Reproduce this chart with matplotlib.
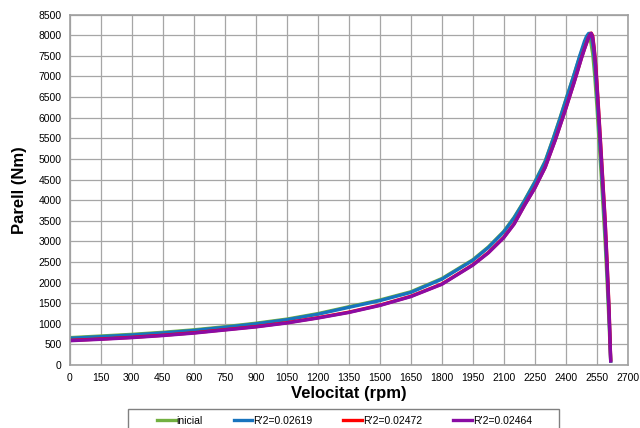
import numpy as np
import matplotlib
matplotlib.use("Agg")
import matplotlib.pyplot as plt
from matplotlib.patches import Rectangle

plt.rcParams['font.family'] = ['Liberation Sans', 'DejaVu Sans']

# speed points (rpm) and torque (Nm)
rpm_ini = [0, 150, 300, 450, 600, 750, 900, 1050, 1200, 1350, 1500, 1650, 1800, 1950,
           2025, 2100, 2150, 2200, 2250, 2300, 2340, 2370, 2405, 2437, 2466, 2490,
           2500, 2510, 2520, 2530, 2540, 2550, 2560, 2570, 2580, 2590, 2600, 2610,
           2617]
t_ini = [665, 705, 745, 795, 855, 930, 1015, 1115, 1248, 1415, 1578, 1778, 2098, 2555,
         2865, 3245, 3585, 3995, 4445, 4945, 5515, 5965, 6515, 7000, 7460, 7780,
         7870, 7900, 7850, 7550, 7000, 6300, 5500, 4700, 3850, 3000, 2000, 900,
         100]

rpm_b = [0, 150, 300, 450, 600, 750, 900, 1050, 1200, 1350, 1500, 1650, 1800, 1950,
         2025, 2100, 2150, 2200, 2250, 2300, 2340, 2370, 2405, 2437, 2466, 2490,
         2500, 2510, 2516, 2524, 2532, 2540, 2550, 2560, 2570, 2580, 2590, 2600,
         2610, 2617]
t_b = [650, 690, 730, 780, 840, 917, 1000, 1100, 1233, 1400, 1563, 1762, 2083, 2540,
       2850, 3230, 3570, 3980, 4430, 4930, 5500, 5950, 6500, 7000, 7480, 7850,
       7970, 8040, 8045, 7950, 7700, 7300, 6600, 5800, 4980, 4130, 3300, 2250,
       1100, 100]

rpm_p = [0, 150, 300, 450, 600, 750, 900, 1050, 1200, 1350, 1500, 1650, 1800, 1950,
         2025, 2100, 2150, 2200, 2250, 2300, 2350, 2400, 2440, 2460, 2475, 2490,
         2500, 2510, 2518, 2523, 2530, 2537, 2545, 2550, 2560, 2570, 2580, 2590,
         2600, 2610, 2617]
t_r = [598, 633, 673, 723, 783, 858, 933, 1028, 1148, 1283, 1453, 1668, 1966, 2431,
       2728, 3098, 3428, 3878, 4298, 4798, 5478, 6228, 6858, 7188, 7438, 7668,
       7808, 7948, 8018, 8050, 7985, 7700, 7260, 6890, 6080, 5240, 4390, 3540,
       2460, 1260, 130]
t_p = [590, 625, 665, 715, 775, 850, 925, 1020, 1140, 1275, 1445, 1660, 1958, 2423,
       2720, 3090, 3420, 3870, 4290, 4790, 5470, 6220, 6850, 7180, 7430, 7660,
       7800, 7940, 8010, 8045, 7950, 7650, 7200, 6830, 6020, 5180, 4330, 3480,
       2400, 1200, 100]

labels = ['inicial', "R'2=0.02619", "R'2=0.02472", "R'2=0.02464"]
colors = ['#72B041', '#1874BE', '#FF0000', '#8A0CA4']

fig = plt.figure(figsize=(6.4, 4.28), dpi=100)
ax = fig.add_axes([0.109, 0.147, 0.872, 0.819])

lw = 2.4
ax.plot(rpm_ini, t_ini, color=colors[0], lw=lw, label=labels[0])
ax.plot(rpm_b, t_b, color=colors[1], lw=lw, label=labels[1])
ax.plot(rpm_p, t_r, color=colors[2], lw=lw, label=labels[2])
ax.plot(rpm_p, t_p, color=colors[3], lw=lw, label=labels[3])

ax.set_xlim(0, 2700)
ax.set_ylim(0, 8500)
ax.set_xticks(np.arange(0, 2701, 150))
ax.set_yticks(np.arange(0, 8501, 500))
ax.tick_params(length=0, labelsize=7.5, pad=6)
ax.grid(True, color='#A6A6A6', lw=0.9)
ax.set_axisbelow(True)
for s in ax.spines.values():
    s.set_color('#A0A0A0')
    s.set_linewidth(1.2)

ax.set_xlabel('Velocitat (rpm)', fontsize=12, fontweight='bold', labelpad=2)
ax.set_ylabel('Parell (Nm)', fontsize=12, fontweight='bold', labelpad=8)

# legend box below the plot, cut by the figure edge
fig.patches.append(Rectangle((128 / 640, -0.05), 431 / 640, 0.05 + (428 - 409) / 428,
                             transform=fig.transFigure, fill=False,
                             edgecolor='#808080', lw=1.0))
leg = fig.legend(loc='center', bbox_to_anchor=(0.538, (428 - 421) / 428), ncol=4,
                 fontsize=7.5, frameon=False, handlelength=1.8,
                 handletextpad=0.1, columnspacing=2.95)

plt.savefig('out.png', dpi=100)
